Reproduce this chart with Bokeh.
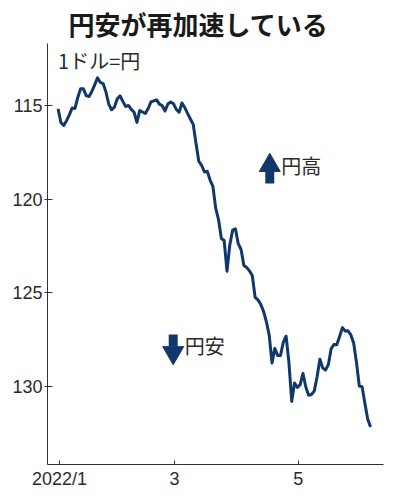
from bokeh.plotting import figure
from bokeh.models import Range1d, FixedTicker, Label
from bokeh.embed import file_html
from bokeh.resources import INLINE

# trading-day index and USD/JPY (yen per dollar)
day_index = list(range(112))
usd_jpy = [
    115.18, 115.91, 116.07, 115.81, 115.50, 115.13, 115.16, 114.57, 114.11, 114.11,
    114.47, 114.52, 114.25, 113.90, 113.52, 113.77, 113.83, 114.28, 114.93, 115.23,
    115.09, 114.65, 114.48, 114.78, 115.05, 115.00, 115.21, 115.36, 115.90, 115.27,
    115.35, 115.43, 115.16, 114.81, 114.75, 114.70, 114.93, 115.01, 115.29, 114.92,
    114.81, 114.91, 115.21, 115.36, 114.87, 115.11, 115.42, 115.72, 116.01, 117.03,
    117.99, 118.20, 118.55, 118.51, 118.98, 119.32, 120.50, 121.09, 122.10, 122.21,
    123.85, 122.45, 121.66, 121.59, 122.38, 122.69, 123.54, 123.65, 123.83, 124.09,
    125.25, 125.38, 125.62, 126.00, 126.55, 127.26, 128.75, 127.97, 128.35, 128.35,
    127.65, 127.32, 128.72, 130.80, 129.82, 130.05, 129.91, 129.31, 130.03, 130.47,
    130.43, 130.25, 129.50, 128.55, 129.01, 129.13, 128.84, 127.99, 127.76, 127.78,
    127.34, 126.86, 127.04, 127.03, 127.25, 127.68, 128.72, 129.98, 130.02, 130.91,
    131.75, 132.17,
]
y_ticks = [115, 120, 125, 130]
x_tick_pos = [0.5, 41.4, 85.3]
x_tick_labels = ["2022/1", "3", "5"]

LINE = "#12386b"
TXT = "#2b2b2b"
JP = "Noto Sans CJK JP"
NUM = "Liberation Sans"

p = figure(frame_width=336, frame_height=421, output_backend="svg", toolbar_location=None,
           x_range=Range1d(-3.76, 115.6), y_range=Range1d(134.17, 111.69),
           min_border_left=47, min_border_right=4, min_border_top=0, min_border_bottom=0)
p.outline_line_color = None
p.xgrid.visible = False
p.ygrid.visible = False
p.background_fill_color = "white"
p.border_fill_color = "white"

p.title.text = "円安が再加速している"
p.title.text_font = JP
p.title.text_font_style = "bold"
p.title.text_font_size = "26px"
p.title.text_color = "#1a1a1a"
p.title.align = "left"
p.title.offset = 21
p.title.standoff = 4

for ax in (p.xaxis[0], p.yaxis[0]):
    ax.axis_line_color = "#333333"
    ax.axis_line_width = 1
    ax.major_tick_line_color = "#333333"
    ax.minor_tick_line_color = None
    ax.major_label_text_font = NUM
    ax.major_label_text_color = TXT

p.yaxis.ticker = FixedTicker(ticks=y_ticks)
p.yaxis.major_tick_out = 3
p.yaxis.major_tick_in = 5
p.yaxis.major_label_standoff = 2
p.yaxis.major_label_text_font_size = "18px"

p.xaxis.ticker = FixedTicker(ticks=x_tick_pos)
p.xaxis.major_label_overrides = {x_tick_pos[i]: x_tick_labels[i] for i in range(3)}
p.xaxis.major_tick_out = 0
p.xaxis.major_tick_in = 4
p.xaxis.major_label_standoff = 4
p.xaxis.major_label_text_font_size = "18px"

p.line(day_index, usd_jpy, line_color=LINE, line_width=3, line_join="round")

p.add_layout(Label(x=0, y=111.8, text="1ドル=円", text_font=JP, text_font_size="20px",
                   text_color=TXT, text_baseline="top"))

# up arrow + 円高
p.scatter([75.2], [118.2], marker="triangle", size=21, fill_color=LINE, line_color=LINE)
p.rect([75.2], [118.85], width=9, height=12, width_units="screen", height_units="screen",
       fill_color=LINE, line_color=None)
p.add_layout(Label(x=79.3, y=118.2, text="円高", text_font=JP, text_font_size="20px",
                   text_color=TXT, text_baseline="middle"))

# down arrow + 円安
p.rect([40.9], [127.55], width=9, height=12, width_units="screen", height_units="screen",
       fill_color=LINE, line_color=None)
p.scatter([40.9], [128.2], marker="inverted_triangle", size=21, fill_color=LINE, line_color=LINE)
p.add_layout(Label(x=45.0, y=127.8, text="円安", text_font=JP, text_font_size="20px",
                   text_color=TXT, text_baseline="middle"))

open("out.html", "w").write(file_html(p, INLINE))
